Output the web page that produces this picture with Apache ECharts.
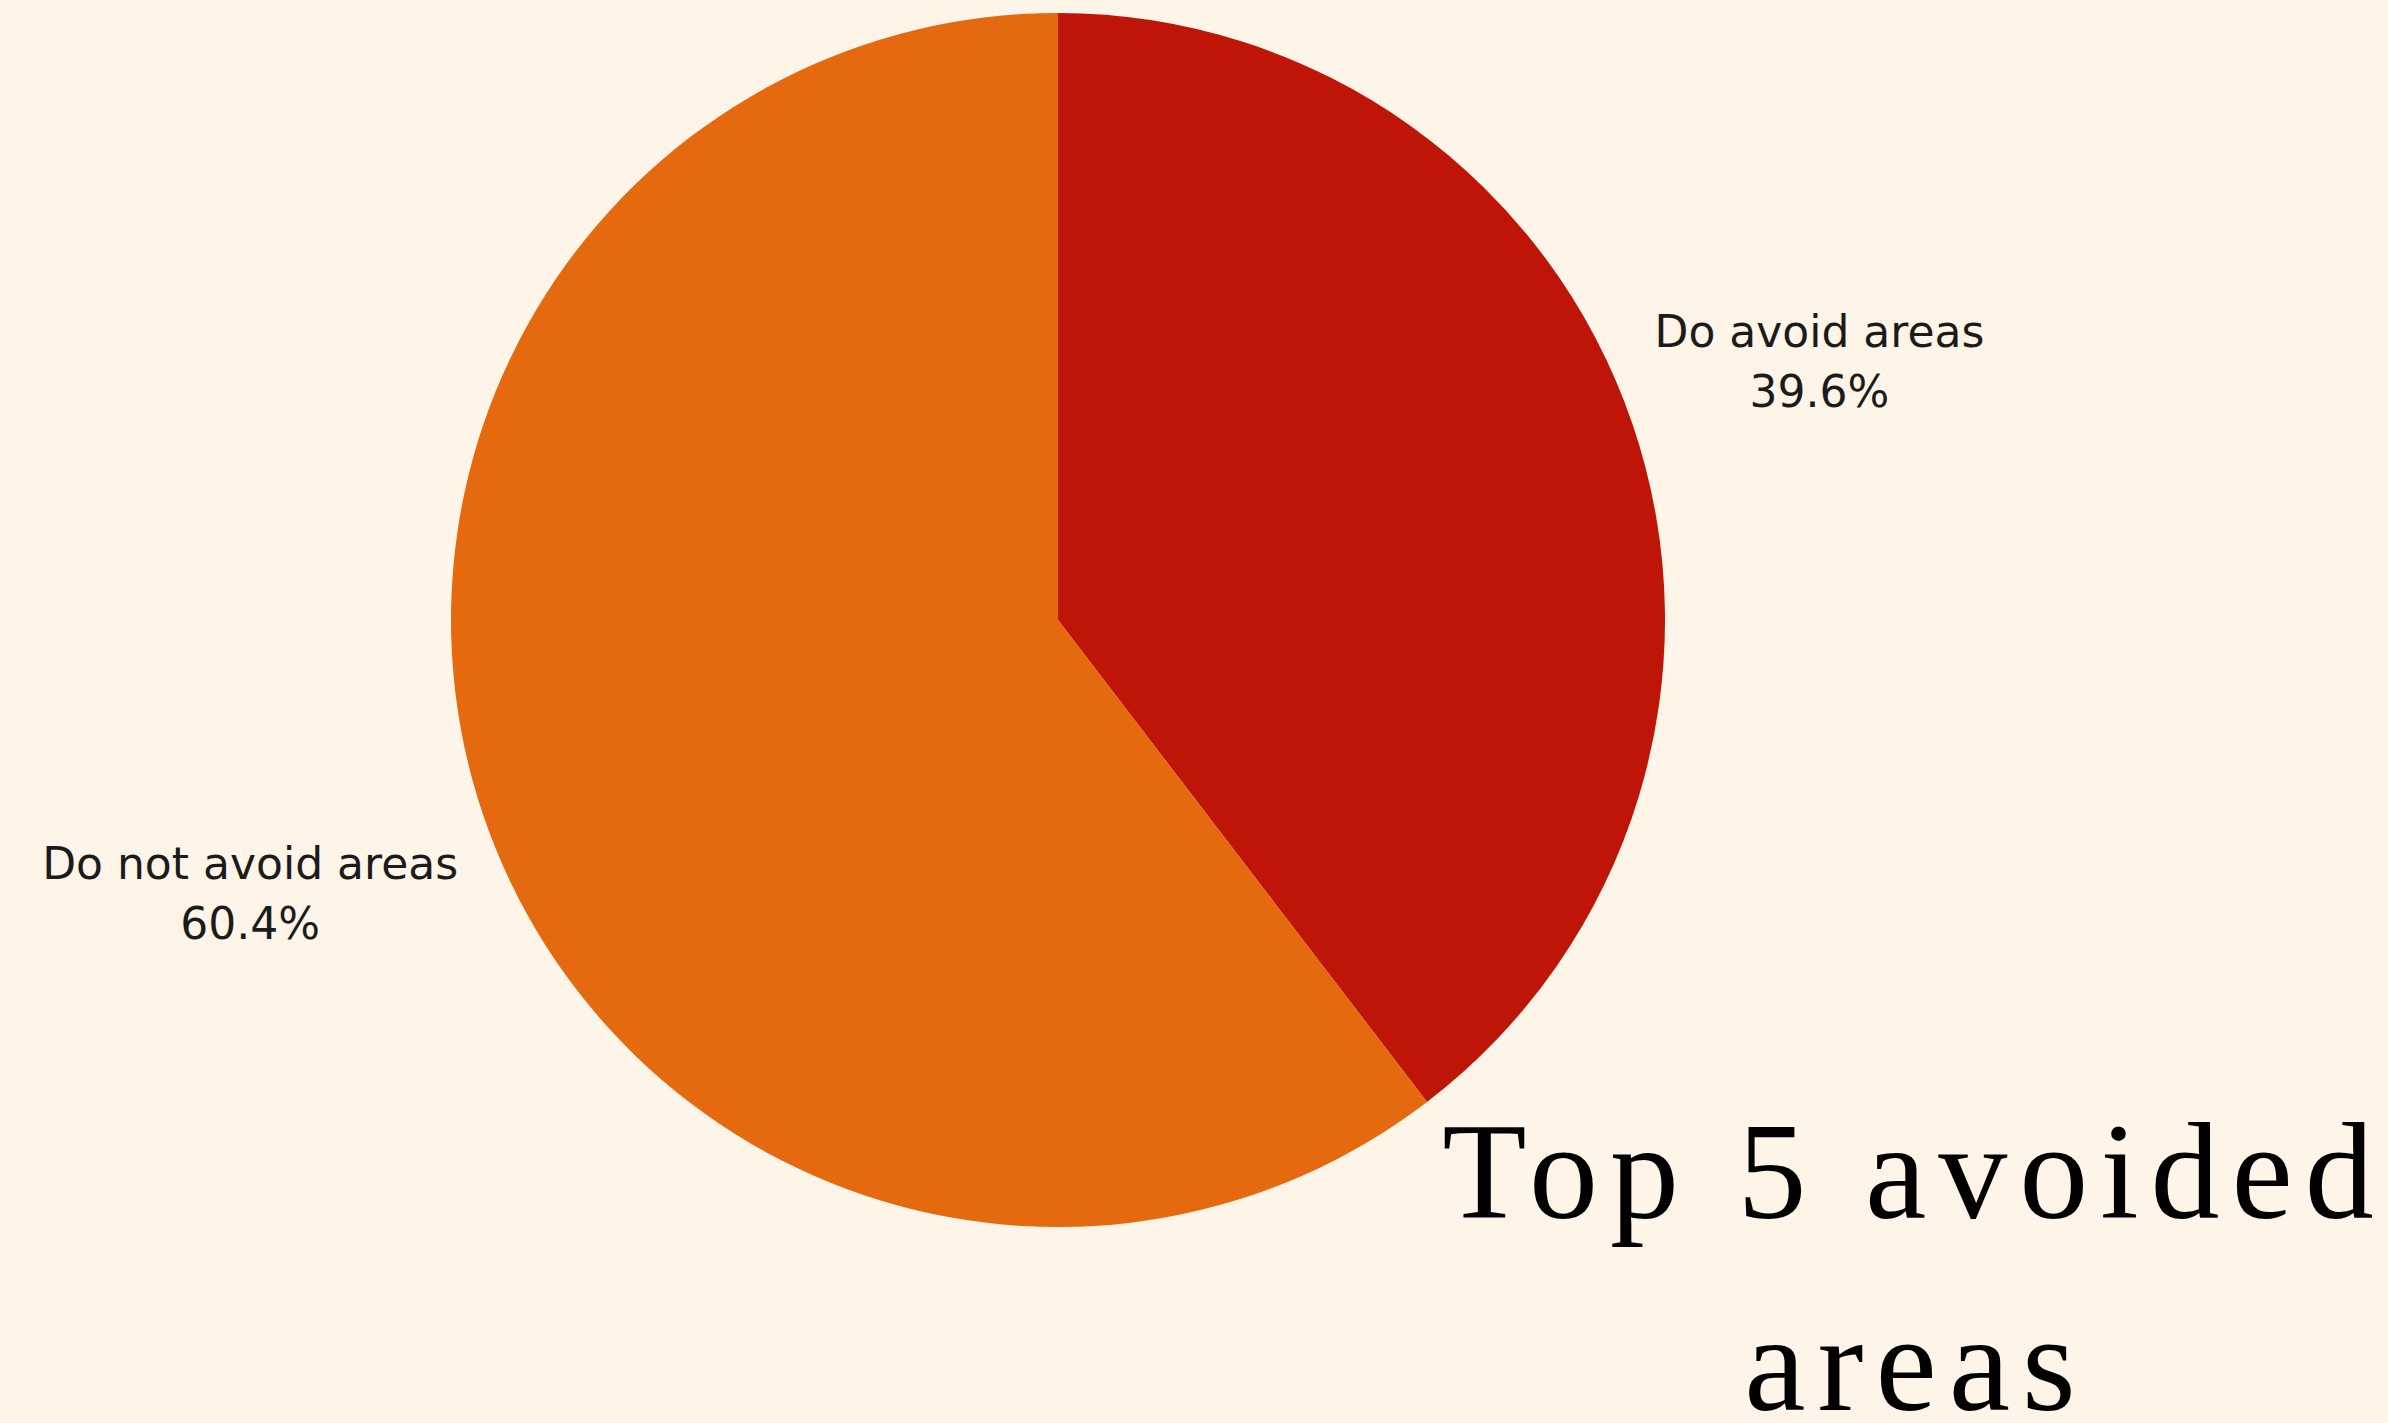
<!DOCTYPE html>
<html><head><meta charset="utf-8">
<script src="https://cdn.jsdelivr.net/npm/echarts@6/dist/echarts.min.js"></script>
<style>
html,body{margin:0;padding:0;background:#FEF5E8;}
#c{width:2388px;height:1423px;}
#c text[style*="Liberation Serif"]{letter-spacing:12px;}
</style></head><body><div id="c"></div>
<script>
const categories = ['Do avoid areas', 'Do not avoid areas'];
const values = [39.6, 60.4];
const titleLines = ['Top 5 avoided', 'areas'];
const sliceColors = ['#BE1508', '#E5690F'];
const labelDistances = [197, 246];

const chart = echarts.init(document.getElementById('c'), null, {renderer: 'svg'});
const titleStyle = {
  fill: '#000', fontSize: 138, fontFamily: 'Liberation Serif',
  textAlign: 'center', align: 'center',
  textVerticalAlign: 'middle', verticalAlign: 'middle',
  lineHeight: 100
};
chart.setOption({
  backgroundColor: '#FEF5E8',
  animation: false,
  series: [{
    type: 'pie',
    center: [1058, 620],
    radius: 607,
    startAngle: 90,
    clockwise: true,
    avoidLabelOverlap: false,
    data: categories.map((n, i) => ({
      name: n, value: values[i],
      itemStyle: {color: sliceColors[i]},
      labelLine: {show: false, length: labelDistances[i], length2: 0}
    })),
    label: {
      show: true, position: 'outside',
      formatter: '{b}\n{c}%',
      fontFamily: '"DejaVu Sans", sans-serif',
      fontSize: 44, lineHeight: 60, color: '#1b1b1b',
      distanceToLabelLine: 0
    },
    labelLine: {show: false},
    labelLayout: function () { return {align: 'center', verticalAlign: 'middle'}; },
    itemStyle: {borderWidth: 0}
  }],
  graphic: [
    {type: 'text', x: 1914, y: 1171, style: Object.assign({text: titleLines[0]}, titleStyle)},
    {type: 'text', x: 1916, y: 1363, style: Object.assign({text: titleLines[1]}, titleStyle)}
  ]
});
</script></body></html>
